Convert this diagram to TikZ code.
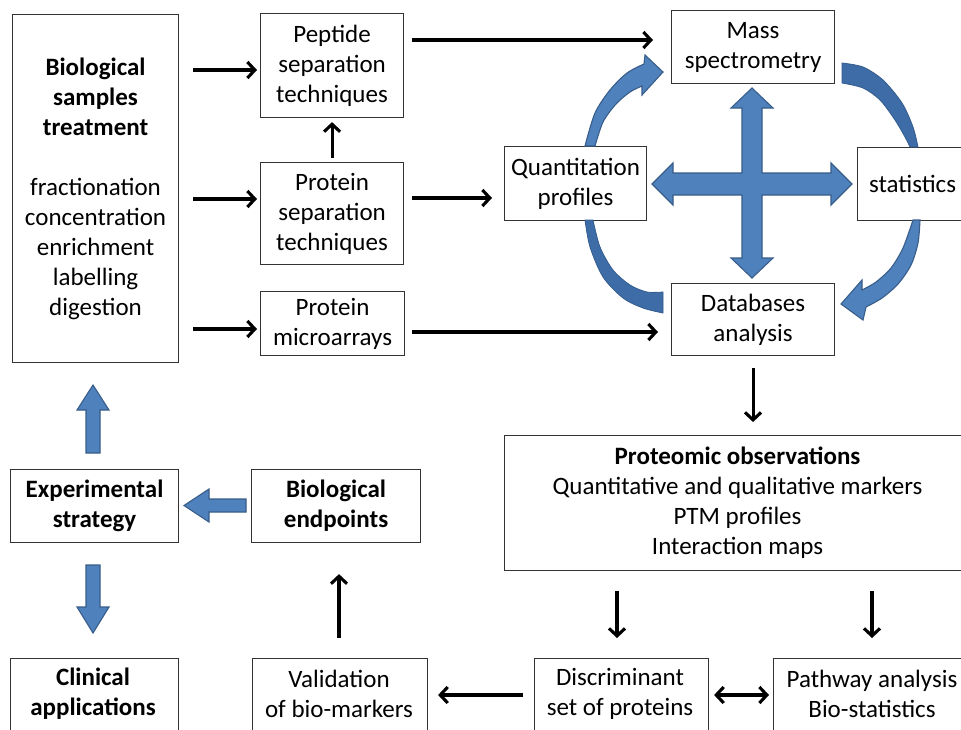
\documentclass[tikz,border=0pt]{standalone}
\usepackage{fontspec}
\setmainfont{Carlito}
\usetikzlibrary{arrows.meta}
\definecolor{bfill}{HTML}{4F81BD}
\definecolor{bdraw}{HTML}{385D8A}
\definecolor{bdark}{HTML}{3D6CA7}
\definecolor{boxline}{HTML}{333333}
\begin{document}
\begin{tikzpicture}[x=1pt,y=-1pt,
  every node/.style={font=\fontsize{25}{30}\selectfont},
  box/.style={draw=boxline, line width=1.1pt, rectangle, inner sep=0pt, align=center, anchor=north west},
  txt/.style={inner sep=0pt, align=center},
  arr/.style={line width=3.1pt, -{Straight Barb[length=7.5pt,width=16pt]}},
  darr/.style={line width=3.1pt, {Straight Barb[length=7.5pt,width=16pt]}-{Straight Barb[length=7.5pt,width=16pt]}},
  blk/.style={fill=bfill, draw=bdraw, line width=1.1pt, line join=miter},
  blkd/.style={fill=bdark, draw=bdark!85!black, line width=0.8pt}]
\useasboundingbox (0,0) rectangle (961,729);
\clip (0,0) rectangle (961,729);
\fill[white] (0,0) rectangle (961,729);

% boxes
\node[box, minimum width=166, minimum height=348] (bio) at (12,14)
  {\textbf{Biological}\\\textbf{samples}\\\textbf{treatment}\\[30pt]fractionation\\concentration\\enrichment\\labelling\\digestion};
\node[box, minimum width=143, minimum height=104] (pep) at (260,13) {Peptide\\separation\\techniques};
\node[box, minimum width=143, minimum height=102] (psep) at (260,162) {Protein\\separation\\techniques};
\node[box, minimum width=144, minimum height=64] (micro) at (260,291) {Protein\\microarrays};
\node[box, minimum width=163, minimum height=73] (ms) at (671,10) {Mass\\spectrometry};
\node[box, minimum width=142, minimum height=74] (quant) at (504,146) {Quantitation\\profiles};
\node[box, minimum width=110, minimum height=73] (stats) at (857,147) {statistics};
\node[box, minimum width=163, minimum height=72] (db) at (671,283) {Databases\\analysis};
\node[box, minimum width=466, minimum height=135] (prot) at (504,435)
  {\textbf{Proteomic observations}\\Quantitative and qualitative markers\\PTM profiles\\Interaction maps};
\node[box, minimum width=168, minimum height=73] (exp) at (10,469) {\textbf{Experimental}\\\textbf{strategy}};
\node[box, minimum width=169, minimum height=73] (endp) at (251,469) {\textbf{Biological}\\\textbf{endpoints}};
\node[box, minimum width=174, minimum height=100] (disc) at (534,658) {};
\node[txt] (disct) at (620,694) {Discriminant\\set of proteins};
\node[box, minimum width=200, minimum height=100] (path) at (773,658) {};
\node[txt] (patht) at (872,694) {Pathway analysis\\Bio-statistics};
\node[box, minimum width=168, minimum height=100] (clin) at (10,658) {};
\node[txt] (clint) at (93,694) {\textbf{Clinical}\\\textbf{applications}};
\node[box, minimum width=175, minimum height=100] (valid) at (252,658) {};
\node[txt] (validt) at (339,694) {Validation\\of bio-markers};

% black arrows
\draw[arr] ([xshift=14pt]bio.east |- 0,70) -- ([xshift=-3pt]pep.west |- 0,70);
\draw[arr] ([xshift=14pt]bio.east |- 0,199) -- ([xshift=-3pt]psep.west |- 0,199);
\draw[arr] ([xshift=14pt]bio.east |- 0,329) -- ([xshift=-3pt]micro.west |- 0,329);
\draw[arr] ([yshift=4pt]psep.north) -- ([yshift=-4pt]pep.south);
\draw[arr] ([xshift=8pt]pep.east |- 0,40) -- ([xshift=-18pt]ms.west |- 0,40);
\draw[arr] ([xshift=8pt]psep.east |- 0,198) -- ([xshift=-12pt]quant.west |- 0,198);
\draw[arr] ([xshift=7pt]micro.east |- 0,332) -- ([xshift=-13pt]db.west |- 0,332);
\draw[arr] ([yshift=-12pt]db.south) -- ([yshift=13pt]prot.north -| db.south);
\draw[arr] ([yshift=-20pt]prot.south -| 617,0) -- ([yshift=20pt]disc.north -| 617,0);
\draw[arr] ([yshift=-20pt]prot.south -| 872,0) -- ([yshift=20pt]path.north -| 872,0);
\draw[arr] ([xshift=-11pt]disc.west |- 0,695) -- ([xshift=10pt]valid.east |- 0,695);
\draw[darr] ([xshift=5pt]disc.east |- 0,695) -- ([xshift=-4pt]path.west |- 0,695);
\draw[arr] ([yshift=20pt]valid.north -| 339,0) -- ([yshift=-31pt]endp.south -| 339,0);

% blue block arrows (left)
\filldraw[blk] (86,453) -- (86,410) -- (77,410) -- (93,385) -- (109,410) -- (100,410) -- (100,453) -- cycle;
\filldraw[blk] (86,565) -- (86,607) -- (77,607) -- (93,633) -- (109,607) -- (100,607) -- (100,565) -- cycle;
\filldraw[blk] (246,499) -- (209,499) -- (209,489) -- (184,505.5) -- (209,522) -- (209,512) -- (246,512) -- cycle;

% cross
\filldraw[blk] (752,88) -- (773,108) -- (762,108) -- (762,173) -- (831,173) -- (831,163) -- (852,184)
  -- (831,205) -- (831,195) -- (762,195) -- (762,258) -- (773,258) -- (752,278) -- (731,258)
  -- (742,258) -- (742,195) -- (673,195) -- (673,205) -- (652,184) -- (673,163) -- (673,173)
  -- (742,173) -- (742,108) -- (731,108) -- cycle;

% curved arrows
\filldraw[blk] plot[smooth] coordinates {(585,146) (595,113) (610,90) (627,73) (644,64)}
  -- (645,55) -- (663,72) -- (642,95) --
  plot[smooth] coordinates {(642,86) (630,92) (616,104) (603,122) (595,146)} -- cycle;
\filldraw[blkd] plot[smooth] coordinates {(842,63) (863,67) (883,80) (902,103) (913,127) (918,147)}
  -- plot[smooth] coordinates {(910,147) (905,137) (895,120) (880,100) (863,88) (842,83)} -- cycle;
\filldraw[blkd] plot[smooth] coordinates {(585,220) (590,247) (603,277) (623,298) (643,308) (663,313)}
  -- plot[smooth] coordinates {(663,292) (647,292) (630,285) (613,270) (600,247) (593,220)} -- cycle;
\filldraw[blk] plot[smooth] coordinates {(920,220) (918,243) (911,265) (898,284) (882,298) (866,307)}
  -- (863,320) -- (841,304) -- (862,280) --
  plot[smooth] coordinates {(862,290) (876,282) (891,268) (903,248) (913,220)} -- cycle;
\end{tikzpicture}
\end{document}
